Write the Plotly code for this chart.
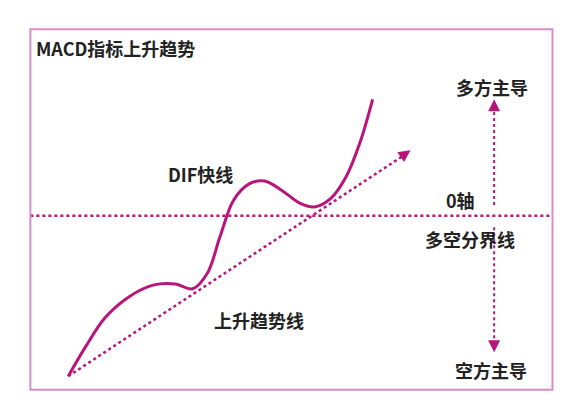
import plotly.graph_objects as go

W, H = 578, 414
MAGENTA = "#b8157c"

# DIF curve (pixel coordinates, y down)
dif_x = [62, 80, 100, 125, 150, 172, 190, 205, 218, 232, 248, 264, 282, 300, 315, 332, 348, 362, 375]
dif_y = [383, 352, 322, 300, 288, 287, 292, 276, 238, 200, 183, 180, 190, 203, 207, 198, 175, 140, 95]

trend_x = [62, 412]
trend_y = [383, 150]

zero_x = [23, 560]
zero_y = [216, 216]

labels = [
    ("MACD指标上升趋势", 27, 42, "left"),
    ("DIF快线", 198, 173, "center"),
    ("上升趋势线", 258, 325, "center"),
    ("0轴", 465, 200, "center"),
    ("多空分界线", 475, 240, "center"),
    ("多方主导", 498, 82, "center"),
    ("空方主导", 497, 377, "center"),
]

fig = go.Figure()
fig.add_trace(go.Scatter(x=dif_x, y=dif_y, mode="lines",
                         line=dict(color=MAGENTA, width=3, shape="spline", smoothing=1.0)))
fig.add_trace(go.Scatter(x=trend_x, y=trend_y, mode="lines",
                         line=dict(color=MAGENTA, width=2.5, dash="dot")))
fig.add_trace(go.Scatter(x=zero_x, y=zero_y, mode="lines",
                         line=dict(color=MAGENTA, width=2.5, dash="dot")))
fig.add_trace(go.Scatter(x=[500, 500], y=[205, 100], mode="lines",
                         line=dict(color=MAGENTA, width=2, dash="dot")))
fig.add_trace(go.Scatter(x=[500, 500], y=[228, 352], mode="lines",
                         line=dict(color=MAGENTA, width=2, dash="dot")))

# arrow heads
for (x0, y0, x1, y1) in [(404, 155, 414, 148), (500, 108, 500, 95), (500, 345, 500, 358)]:
    fig.add_annotation(x=x1, y=y1, ax=x0, ay=y0, xref="x", yref="y", axref="x", ayref="y",
                       showarrow=True, arrowhead=2, arrowsize=1.2, arrowwidth=2,
                       arrowcolor=MAGENTA, text="")

for text, x, y, anchor in labels:
    fig.add_annotation(x=x, y=y, text=f"<b>{text}</b>", showarrow=False, xanchor=anchor,
                       font=dict(size=18, color="#222222", family="Noto Sans CJK SC"))

fig.add_shape(type="rect", x0=23, y0=22, x1=560, y1=397,
              line=dict(color="#d78cc8", width=2))

fig.update_layout(
    autosize=True, showlegend=False,
    margin=dict(l=0, r=0, t=0, b=0),
    plot_bgcolor="white", paper_bgcolor="white",
    xaxis=dict(range=[0, W], visible=False),
    yaxis=dict(range=[H, 0], visible=False),
)

fig.write_html("out.html", default_width="100%", default_height="100%")
